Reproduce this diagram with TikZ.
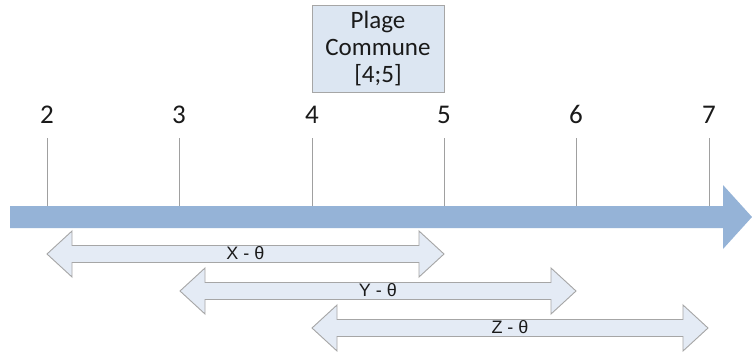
\documentclass[tikz,border=0pt]{standalone}
\usepackage{fontspec}
\setmainfont{Carlito}
\newfontfamily\arialf{Liberation Sans}
\definecolor{mainblue}{HTML}{95B3D7}
\definecolor{lightfill}{HTML}{E4EBF5}
\definecolor{boxfill}{HTML}{DCE6F2}
\definecolor{edgegray}{HTML}{A6A6A6}
\definecolor{tickgray}{HTML}{A0A0A0}
\definecolor{txt}{HTML}{1A1A1A}
\begin{document}
\begin{tikzpicture}[x=1pt,y=-1pt,
  ticklabel/.style={anchor=base,inner sep=0pt,text=txt,font=\fontsize{27}{28}\selectfont},
  ticklinestyle/.style={draw=tickgray,line width=1pt},
  rangearrow/.style={fill=lightfill,draw=edgegray,line width=0.9pt,line join=miter},
  rangelabel/.style={inner sep=0pt,text=txt,font=\arialf\fontsize{18}{20}\selectfont},
  plagebox/.style={draw=edgegray,fill=boxfill,line width=0.9pt,minimum width=132pt,minimum height=87pt,inner sep=0pt,align=center,text=txt,font=\fontsize{25}{27}\selectfont}
]
\useasboundingbox (0,0) rectangle (752,351);
\fill[white] (0,0) rectangle (752,351);

% main axis arrow
\fill[mainblue] (10,206) -- (723,206) -- (723,185) -- (752,217) -- (723,249) -- (723,228) -- (10,228) -- cycle;

% common range box
\node[plagebox] (plage) at (378,48.5) {Plage\\Commune\\{[4;5]}};

% ticks and labels
\foreach \v/\x in {2/47,3/179,4/312,5/444,6/576,7/709}{
  \node[ticklabel] (lab\v) at (\x,123) {\v};
  \coordinate (top\v) at (\x,138);
  \coordinate (bot\v) at (\x,206);
  \draw[ticklinestyle] (top\v) -- (bot\v);
}

% range double arrows
\def\rangearr#1#2#3{%
  \draw[rangearrow] (#1,#3) -- (#1+25,#3-23) -- (#1+25,#3-8.5) -- (#2-25,#3-8.5) -- (#2-25,#3-23) -- (#2,#3)
    -- (#2-25,#3+23) -- (#2-25,#3+8.5) -- (#1+25,#3+8.5) -- (#1+25,#3+23) -- cycle;}
\rangearr{47}{444}{254}
\rangearr{180}{576}{291}
\rangearr{312}{708}{328}

\node[rangelabel] (xl) at (245.5,253) {X - θ};
\node[rangelabel] (yl) at (378,290) {Y - θ};
\node[rangelabel] (zl) at (510,327) {Z - θ};
\end{tikzpicture}
\end{document}
